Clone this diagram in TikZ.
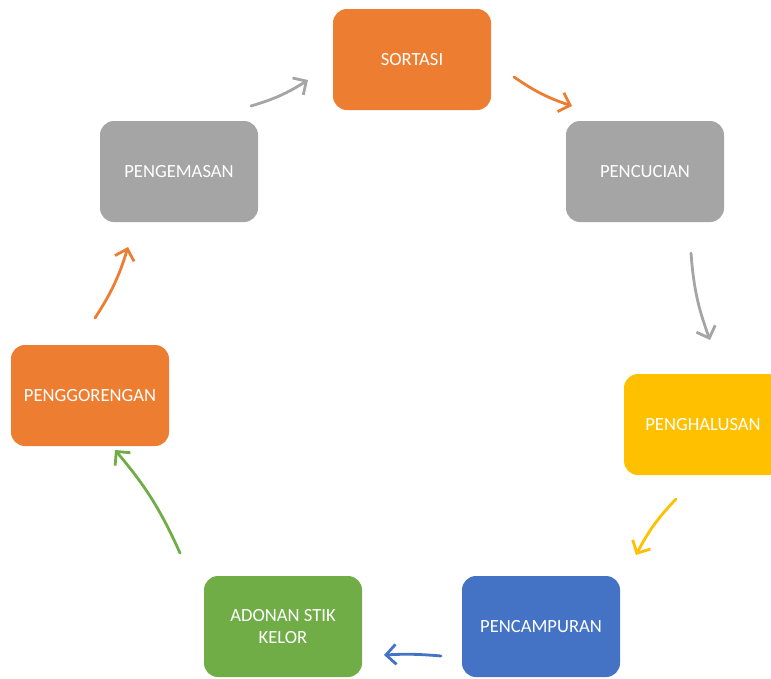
\documentclass[tikz,border=0pt]{standalone}
\usepackage{fontspec}
\setmainfont{Carlito}
\usetikzlibrary{arrows.meta}
\definecolor{cOrange}{HTML}{ED7D31}
\definecolor{cGray}{HTML}{A5A5A5}
\definecolor{cYellow}{HTML}{FFC000}
\definecolor{cBlue}{HTML}{4472C4}
\definecolor{cGreen}{HTML}{70AD47}
\tikzset{
  stepbox/.style={rounded corners=14pt, minimum width=158pt, minimum height=101pt,
    inner sep=0pt, text=white, align=center,
    font=\fontsize{18.6pt}{22pt}\selectfont},
  flow/.style={line width=2.8pt, line cap=round, bend right=#1,
    -{Straight Barb[length=10pt,width=20pt,line width=2.8pt]}},
}
\begin{document}
\begin{tikzpicture}[x=1pt,y=-1pt]
\useasboundingbox (0,0) rectangle (771,678);
\clip (0,0) rectangle (771,678);
\node[stepbox, fill=cOrange] (sort) at (412,59.5) {SORTASI};
\node[stepbox, fill=cGray] (cuci) at (645,171.5) {PENCUCIAN};
\node[stepbox, fill=cYellow] (halus) at (703,424.5) {PENGHALUSAN};
\node[stepbox, fill=cBlue] (campur) at (541,626.5) {PENCAMPURAN};
\node[stepbox, fill=cGreen] (adonan) at (283,626.5) {ADONAN STIK\\KELOR};
\node[stepbox, fill=cOrange] (goreng) at (90,395.5) {PENGGORENGAN};
\node[stepbox, fill=cGray] (kemas) at (179,171.5) {PENGEMASAN};

\coordinate (a1) at (251,106); \coordinate (b1) at (308,80);
\coordinate (a2) at (514,77);  \coordinate (b2) at (572,106);
\coordinate (a3) at (691,253); \coordinate (b3) at (710,340);
\coordinate (a4) at (676,499); \coordinate (b4) at (636,555);
\coordinate (a5) at (441,656); \coordinate (b5) at (384,655);
\coordinate (a6) at (180,553); \coordinate (b6) at (115,450);
\coordinate (a7) at (95,318);  \coordinate (b7) at (128,247);

\draw[flow=8, cGray] (a1) to (b1);
\draw[flow=8, cOrange] (a2) to (b2);
\draw[flow=8, cGray] (a3) to (b3);
\draw[flow=8, cYellow] (a4) to (b4);
\draw[flow=4, cBlue] (a5) to (b5);
\draw[flow=8, cGreen] (a6) to (b6);
\draw[flow=8, cOrange] (a7) to (b7);
\end{tikzpicture}
\end{document}
